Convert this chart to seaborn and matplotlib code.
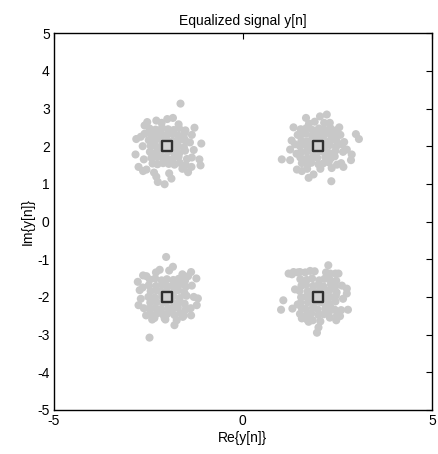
import pandas as pd
import matplotlib
matplotlib.use("Agg")
import matplotlib.pyplot as plt
import seaborn as sns

# received symbols (one list pair per cluster)
re_a = [-2.47, -2.31, -2.14, -1.98, -1.83, -1.69, -1.52,
        -2.43, -2.28, -2.16, -2.02, -1.86, -1.71, -1.55,
        -2.49, -2.33, -2.17, -1.99, -1.84, -1.66, -1.50,
        -2.44, -2.29, -2.13, -2.01, -1.87, -1.72, -1.56,
        -2.46, -2.30, -2.15, -1.97, -1.82, -1.68, -1.53,
        -2.42, -2.27, -2.12, -2.03, -1.85, -1.70, -1.48,
        -2.39, -2.26, -2.11, -1.96, -1.81, -1.67, -1.51,
        -2.60, -2.15, -1.70, -1.35, -1.30, -1.35, -2.65, -2.62, -2.35, -1.95,
        -1.60, -1.40, -2.70, -1.85, -1.55,
        -1.65, -2.53, -2.29, -2.00, -2.60, -2.82, -1.10, -1.15, -1.12, -2.76,
        -2.64, -2.55, -2.29, -2.25, -2.07, -1.89, -1.45, -1.36, -2.84, -1.28]
im_a = [2.47, 2.44, 2.49, 2.45, 2.43, 2.48, 2.42,
        2.31, 2.29, 2.33, 2.30, 2.32, 2.28, 2.34,
        2.16, 2.14, 2.18, 2.15, 2.13, 2.17, 2.12,
        2.01, 1.99, 2.02, 1.98, 2.03, 2.00, 1.97,
        1.85, 1.83, 1.87, 1.86, 1.84, 1.82, 1.88,
        1.69, 1.71, 1.68, 1.70, 1.67, 1.72, 1.66,
        1.54, 1.52, 1.55, 1.53, 1.51, 1.56, 1.50,
        2.55, 2.62, 2.58, 2.30, 1.90, 1.70, 2.00, 1.65, 1.30, 1.28,
        1.40, 2.10, 2.25, 2.75, 2.20,
        3.13, 2.64, 2.68, 2.72, 2.33, 2.19, 2.07, 1.65, 1.49, 1.45,
        1.34, 1.38, 1.19, 1.05, 0.99, 1.14, 1.31, 1.45, 1.78, 2.49]

re_b = [1.53, 1.68, 1.84, 2.01, 2.15, 2.31, 2.46,
        1.50, 1.66, 1.83, 1.98, 2.14, 2.29, 2.44,
        1.55, 1.71, 1.86, 2.02, 2.17, 2.33, 2.48,
        1.51, 1.67, 1.82, 1.99, 2.16, 2.30, 2.47,
        1.54, 1.69, 1.85, 2.03, 2.13, 2.28, 2.45,
        1.52, 1.70, 1.87, 1.97, 2.18, 2.32, 2.43,
        1.56, 1.72, 1.81, 2.00, 2.12, 2.27, 2.49,
        1.38, 1.42, 2.62, 2.65, 1.75, 2.30, 2.55, 1.70, 2.05, 2.35,
        2.60, 1.45, 1.90, 2.58, 1.62,
        1.67, 2.04, 2.22, 2.15, 1.34, 2.99, 3.07, 2.68, 2.75, 2.88,
        2.86, 1.03, 1.25, 2.66, 1.43, 1.56, 1.74, 1.87, 2.34, 1.29, 1.25]
im_b = [2.45, 2.48, 2.43, 2.47, 2.44, 2.49, 2.42,
        2.30, 2.33, 2.28, 2.31, 2.29, 2.34, 2.32,
        2.15, 2.13, 2.17, 2.16, 2.12, 2.18, 2.14,
        2.00, 2.02, 1.98, 2.01, 1.97, 2.03, 1.99,
        1.84, 1.86, 1.83, 1.87, 1.85, 1.82, 1.88,
        1.70, 1.68, 1.72, 1.69, 1.71, 1.67, 1.73,
        1.55, 1.53, 1.56, 1.52, 1.54, 1.57, 1.51,
        2.05, 1.80, 2.05, 1.85, 2.60, 2.62, 2.50, 1.40, 1.40, 1.42,
        1.55, 2.30, 2.65, 2.30, 1.60,
        2.75, 2.79, 2.84, 2.62, 2.50, 2.32, 2.19, 2.11, 1.91, 1.78,
        1.63, 1.65, 1.63, 1.45, 1.38, 1.34, 1.16, 1.25, 1.07, 2.15, 1.91]

re_c = [-2.46, -2.32, -2.15, -2.01, -1.84, -1.70, -1.53,
        -2.49, -2.30, -2.13, -1.98, -1.86, -1.68, -1.51,
        -2.44, -2.28, -2.17, -2.02, -1.83, -1.71, -1.55,
        -2.50, -2.33, -2.14, -1.99, -1.85, -1.67, -1.49,
        -2.45, -2.29, -2.12, -2.03, -1.82, -1.69, -1.54,
        -2.47, -2.31, -2.16, -1.97, -1.87, -1.72, -1.52,
        -2.43, -2.27, -2.11, -2.00, -1.81, -1.66, -1.56,
        -2.65, -2.70, -2.62, -1.35, -1.30, -1.38, -2.30, -1.95, -1.60, -2.40,
        -1.75, -2.05, -2.55, -1.45, -2.20,
        -2.03, -2.64, -1.85, -2.78, -2.73, -2.76, -2.47, -1.23, -1.37, -1.19,
        -1.22, -1.37, -2.56, -2.34, -2.07, -1.81, -1.59]
im_c = [-1.54, -1.51, -1.56, -1.53, -1.55, -1.52, -1.57,
        -1.69, -1.71, -1.68, -1.72, -1.70, -1.67, -1.73,
        -1.85, -1.83, -1.86, -1.84, -1.87, -1.82, -1.88,
        -2.00, -2.02, -1.99, -2.01, -1.98, -2.03, -1.97,
        -2.15, -2.13, -2.16, -2.14, -2.17, -2.12, -2.18,
        -2.31, -2.29, -2.32, -2.30, -2.33, -2.28, -2.34,
        -2.46, -2.44, -2.47, -2.45, -2.48, -2.43, -2.49,
        -1.75, -2.05, -2.30, -1.70, -2.00, -2.30, -1.35, -1.30, -1.40, -2.60,
        -2.62, -2.60, -1.45, -1.45, -1.28,
        -0.94, -1.43, -1.20, -1.60, -1.82, -2.22, -3.08, -1.51, -1.34, -2.04,
        -2.22, -2.49, -2.49, -2.56, -2.57, -2.75, -2.53]

re_d = [1.52, 1.69, 1.83, 2.02, 2.16, 2.30, 2.47,
        1.55, 1.67, 1.86, 1.99, 2.13, 2.33, 2.44,
        1.50, 1.71, 1.84, 2.01, 2.17, 2.29, 2.48,
        1.54, 1.68, 1.82, 1.97, 2.15, 2.31, 2.46,
        1.53, 1.72, 1.87, 2.03, 2.12, 2.28, 2.45,
        1.56, 1.66, 1.85, 1.98, 2.18, 2.32, 2.43,
        1.51, 1.70, 1.81, 2.00, 2.14, 2.27, 2.49,
        1.30, 1.45, 1.65, 1.90, 2.20, 2.45, 2.62, 2.65, 1.38, 1.45,
        2.60, 1.85, 2.05, 2.30, 1.70,
        2.26, 2.53, 1.21, 1.34, 1.07, 1.01, 1.31, 2.75, 2.75, 2.78,
        2.57, 2.47, 1.96, 2.00, 1.74, 1.56, 2.31, 1.51, 1.78]
im_d = [-1.53, -1.55, -1.51, -1.56, -1.52, -1.54, -1.57,
        -1.70, -1.68, -1.71, -1.69, -1.72, -1.67, -1.73,
        -1.84, -1.86, -1.83, -1.87, -1.85, -1.82, -1.88,
        -2.01, -1.99, -2.02, -1.98, -2.03, -2.00, -1.97,
        -2.16, -2.14, -2.17, -2.13, -2.15, -2.18, -2.12,
        -2.30, -2.32, -2.29, -2.33, -2.31, -2.28, -2.34,
        -2.45, -2.47, -2.44, -2.48, -2.46, -2.43, -2.49,
        -1.40, -1.35, -1.35, -1.32, -1.35, -1.38, -1.70, -2.05, -1.80, -2.20,
        -2.35, -2.62, -2.65, -2.55, -2.60,
        -1.16, -1.38, -1.38, -1.34, -2.09, -2.34, -2.31, -1.78, -1.91, -2.34,
        -2.51, -2.62, -2.95, -2.81, -2.66, -2.57, -1.38, -1.34, -1.31]

# ideal QPSK constellation points
ideal_re = [-2, 2, -2, 2]
ideal_im = [2, 2, -2, -2]

x_ticks = [-5, 0, 5]
y_ticks = [-5, -4, -3, -2, -1, 0, 1, 2, 3, 4, 5]

df = pd.DataFrame({
    "re": re_a + re_b + re_c + re_d,
    "im": im_a + im_b + im_c + im_d,
})

sns.set_style("white")
plt.rcParams["font.family"] = ["Liberation Sans", "DejaVu Sans"]
plt.rcParams["axes.unicode_minus"] = False

fig = plt.figure(figsize=(4.38, 4.54), dpi=100)
ax = fig.add_axes([0.123, 0.097, 0.863, 0.830])

sns.scatterplot(data=df, x="re", y="im", color="#c8c8c8", s=34,
                edgecolor="none", linewidth=0, ax=ax)
sns.scatterplot(x=ideal_re, y=ideal_im, marker="s", s=62, facecolor="#d0d0d0",
                edgecolor="#303030", linewidth=1.7, ax=ax)

ax.set_xlim(-5, 5)
ax.set_ylim(-5, 5)
ax.set_xticks(x_ticks)
ax.set_yticks(y_ticks)
ax.tick_params(direction="in", length=4, width=0.8, top=True, right=True,
               labelsize=10, colors="black", pad=3)
for s in ax.spines.values():
    s.set_color("black")
    s.set_linewidth(1.0)

ax.set_title("Equalized signal y[n]", fontsize=10, pad=6, color="black")
ax.set_xlabel("Re{y[n]}", fontsize=10, labelpad=2, color="black")
ax.set_ylabel("Im{y[n]}", fontsize=10, labelpad=2, color="black")

fig.savefig("out.png", dpi=100)
